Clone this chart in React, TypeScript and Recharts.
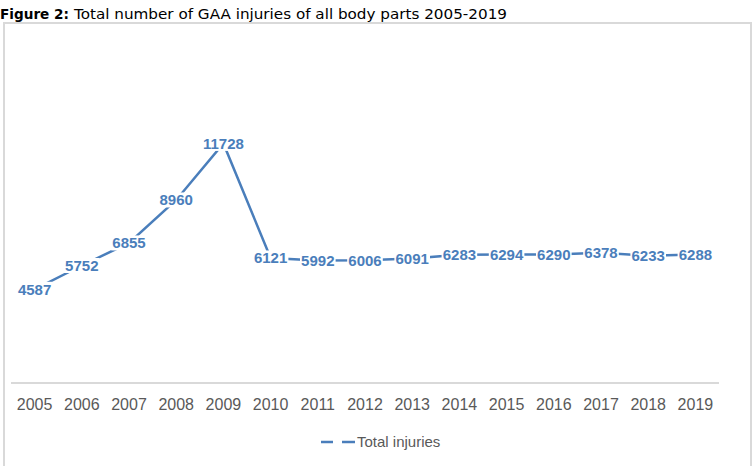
import React from 'react';
import { LineChart, Line, XAxis, YAxis, LabelList } from 'recharts';

const years = ['2005', '2006', '2007', '2008', '2009', '2010', '2011', '2012', '2013', '2014', '2015', '2016', '2017', '2018', '2019'];
const totalInjuries = [4587, 5752, 6855, 8960, 11728, 6121, 5992, 6006, 6091, 6283, 6294, 6290, 6378, 6233, 6288];
const yDomain = [0, 14000];
const seriesName = 'Total injuries';
const titleBold = 'Figure 2:';
const titleRest = 'Total number of GAA injuries of all body parts 2005-2019';

const data = years.map((y, i) => ({ year: y, total: totalInjuries[i] }));

const BLUE = '#4A7EBB';
const GREY = '#595959';
const FONT = '"Liberation Sans", Arial, sans-serif';

const DataLabel = (props: any) => {
  const { x, y, value } = props;
  if (x == null || y == null) return null;
  const text = String(value);
  const w = text.length * 8.4 + 2;
  const h = 15;
  return (
    <g>
      <rect x={x - w / 2} y={y - h / 2} width={w} height={h} fill="#ffffff" />
      <text
        x={x}
        y={y}
        dy="0.36em"
        textAnchor="middle"
        fill={BLUE}
        fontSize={15}
        fontWeight="bold"
        fontFamily={FONT}
      >
        {text}
      </text>
    </g>
  );
};

export default function App() {
  return (
    <div style={{ position: 'absolute', left: 0, top: 0, width: 756, height: 466, overflow: 'hidden', background: '#fff' }}>
      <div
        style={{
          position: 'absolute',
          left: 3,
          top: 22,
          width: 749,
          height: 470,
          border: '2px solid #d9d9d9',
          boxSizing: 'border-box',
        }}
      />
      <div style={{ position: 'absolute', left: 0, top: 0 }}>
        <LineChart width={756} height={466} data={data} margin={{ top: 97, right: 37, bottom: 53, left: 11 }}>
          <XAxis
            dataKey="year"
            height={30}
            padding={{ left: 23.6, right: 23.6 }}
            axisLine={{ stroke: '#d9d9d9', strokeWidth: 2 }}
            tickLine={false}
            tickMargin={10}
            interval={0}
            tick={{ fontSize: 16, fill: GREY, fontFamily: FONT }}
          />
          <YAxis hide domain={yDomain} />
          <Line
            type="linear"
            dataKey="total"
            name={seriesName}
            stroke={BLUE}
            strokeWidth={2.5}
            dot={false}
            activeDot={false}
            isAnimationActive={false}
          >
            <LabelList dataKey="total" content={<DataLabel />} />
          </Line>
        </LineChart>
      </div>
      <svg style={{ position: 'absolute', left: 0, top: 0 }} width={756} height={466} pointerEvents="none">
        <text x={0} y={19} fontSize={14.5} fontWeight="bold" fontFamily='"DejaVu Sans", sans-serif' fill="#000" textLength={69} lengthAdjust="spacingAndGlyphs">
          {titleBold}
        </text>
        <text x={74} y={19} fontSize={14.5} fontFamily='"DejaVu Sans", sans-serif' fill="#000" textLength={433} lengthAdjust="spacingAndGlyphs">
          {titleRest}
        </text>
        <line x1={321} y1={442} x2={333} y2={442} stroke={BLUE} strokeWidth={2.5} />
        <line x1={342} y1={442} x2={355} y2={442} stroke={BLUE} strokeWidth={2.5} />
        <text x={357} y={442} dy="0.36em" fontSize={15} fontFamily={FONT} fill={GREY}>
          {seriesName}
        </text>
      </svg>
    </div>
  );
}
